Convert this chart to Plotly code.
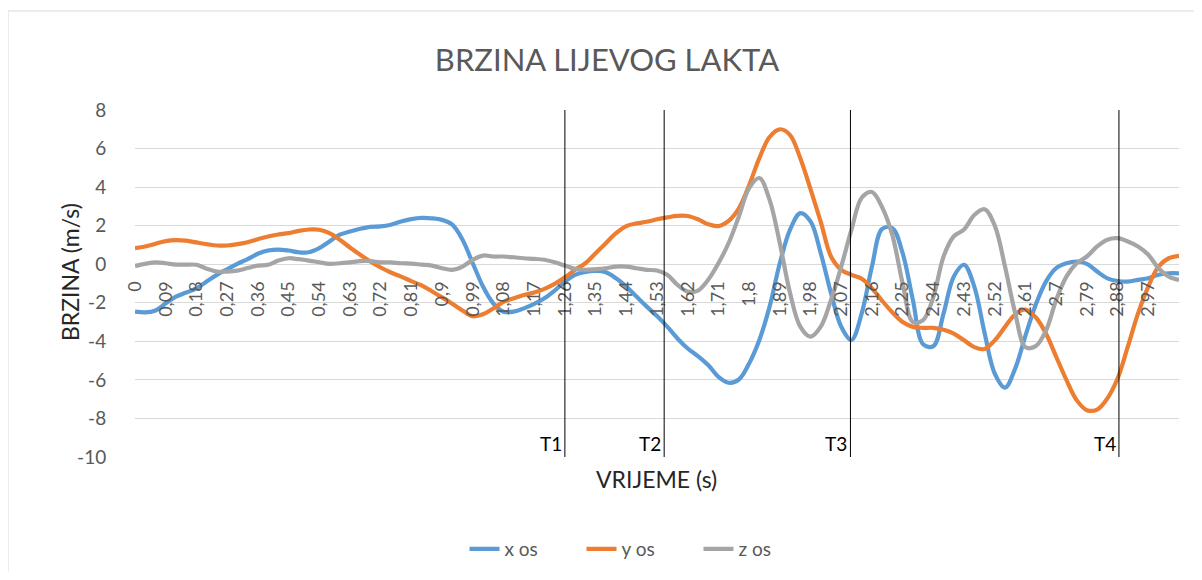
import plotly.graph_objects as go

categories = ["0","0,03","0,06","0,09","0,12","0,15","0,18","0,21","0,24","0,27","0,3","0,33","0,36","0,39","0,42","0,45","0,48","0,51","0,54","0,57","0,6","0,63","0,66","0,69","0,72","0,75","0,78","0,81","0,84","0,87","0,9","0,93","0,96","0,99","1,02","1,05","1,08","1,11","1,14","1,17","1,2","1,23","1,26","1,29","1,32","1,35","1,38","1,41","1,44","1,47","1,5","1,53","1,56","1,59","1,62","1,65","1,68","1,71","1,74","1,77","1,8","1,83","1,86","1,89","1,92","1,95","1,98","2,01","2,04","2,07","2,1","2,13","2,16","2,19","2,22","2,25","2,28","2,31","2,34","2,37","2,4","2,43","2,46","2,49","2,52","2,55","2,58","2,61","2,64","2,67","2,7","2,73","2,76","2,79","2,82","2,85","2,88","2,91","2,94","2,97","3","3,03","3,06"]

x_os = [-2.46,-2.5,-2.4,-2.03,-1.68,-1.47,-1.25,-0.9,-0.55,-0.26,
        0.02,0.26,0.54,0.71,0.76,0.71,0.62,0.62,0.83,1.18,
        1.53,1.7,1.84,1.94,1.96,2.05,2.22,2.34,2.4,2.38,
        2.3,2.05,1.27,0.05,-1.16,-2.03,-2.46,-2.46,-2.29,-2.06,
        -1.77,-1.37,-0.9,-0.55,-0.4,-0.35,-0.42,-0.73,-1.16,-1.68,
        -2.2,-2.69,-3.24,-3.85,-4.37,-4.77,-5.23,-5.84,-6.15,-5.98,
        -5.15,-3.93,-2.2,0.05,1.79,2.65,2.22,0.57,-1.5,-3.24,
        -3.93,-2.55,-0.12,1.83,1.87,0.57,-1.85,-4.15,-4.25,-2.55,
        -0.64,-0.03,-1.16,-3.55,-5.67,-6.4,-5.4,-3.7,-2.1,-0.9,
        -0.2,0.05,0.14,0.02,-0.38,-0.73,-0.87,-0.9,-0.81,-0.73,
        -0.55,-0.47,-0.47]

y_os = [0.83,0.92,1.06,1.2,1.25,1.22,1.13,1.04,0.97,0.97,
        1.04,1.14,1.3,1.44,1.54,1.61,1.73,1.8,1.79,1.61,
        1.27,0.87,0.49,0.14,-0.17,-0.43,-0.64,-0.88,-1.1,-1.4,
        -1.72,-2.05,-2.4,-2.7,-2.6,-2.3,-1.95,-1.77,-1.6,-1.47,
        -1.28,-1.02,-0.68,-0.29,0.05,0.57,1.09,1.61,1.98,2.12,
        2.2,2.33,2.43,2.51,2.5,2.33,2.07,1.98,2.25,2.9,
        4.1,5.5,6.6,7.0,6.7,5.5,3.9,2.2,0.4,-0.29,
        -0.55,-0.75,-1.25,-1.9,-2.5,-3.0,-3.25,-3.3,-3.3,-3.4,
        -3.6,-3.95,-4.3,-4.4,-3.95,-3.25,-2.6,-2.35,-2.75,-3.59,
        -4.8,-6.0,-7.05,-7.57,-7.54,-6.96,-5.93,-4.28,-2.55,-1.16,
        -0.12,0.31,0.43]

z_os = [-0.09,0.02,0.1,0.05,-0.02,-0.02,-0.03,-0.23,-0.38,-0.38,
        -0.33,-0.2,-0.07,-0.03,0.19,0.31,0.26,0.19,0.1,0.02,
        0.05,0.1,0.16,0.16,0.1,0.1,0.05,0.03,-0.02,-0.07,
        -0.21,-0.29,-0.12,0.23,0.45,0.4,0.4,0.36,0.31,0.28,
        0.23,0.1,-0.07,-0.24,-0.29,-0.26,-0.21,-0.12,-0.12,-0.21,
        -0.29,-0.33,-0.55,-1.07,-1.42,-1.37,-0.81,0.05,1.1,2.48,
        3.95,4.47,3.34,1.09,-1.5,-3.24,-3.76,-3.24,-1.85,-0.12,
        1.79,3.45,3.75,2.95,1.5,-1.0,-3.0,-2.9,-1.7,0.4,
        1.45,1.8,2.55,2.85,2.0,-0.12,-2.55,-4.3,-4.25,-3.45,
        -1.85,-0.64,0.05,0.4,0.92,1.27,1.35,1.18,0.92,0.49,
        -0.21,-0.64,-0.81]

series_names = ["x os", "y os", "z os"]
series_colors = ["#5B9BD5", "#ED7D31", "#A5A5A5"]

tick_labels = categories[:100:3]

y_ticks = [-10, -8, -6, -4, -2, 0, 2, 4, 6, 8]
y_tick_text = ["-10", "-8", "-6", "-4", "-2", "0", "2", "4", "6", "8"]

marker_names = ["T1", "T2", "T3", "T4"]
marker_times = [1.26, 1.551, 2.097, 2.884]
time_step = 0.03

FONT = "Lato"
# page body has an 8px margin; figure coords = screen coords - 8
W, H = 1186, 564
L, R, T, B = 127, 15, 102, 115
PW, PH = W - L - R, H - T - B

def px_x(p):
    return (p - L) / PW

def px_y(p):
    return (H - B - p) / PH

fig = go.Figure()
for name, vals, col in zip(series_names, [x_os, y_os, z_os], series_colors):
    fig.add_trace(go.Scatter(x=categories, y=vals, name=name, mode="lines",
                             line=dict(color=col, width=4.2, shape="spline", smoothing=1.0)))

ymin, ymax = -10, 8
shapes = []
annotations = []
for nm, tt in zip(marker_names, marker_times):
    idx = tt / time_step
    shapes.append(dict(type="line", xref="x", yref="y", x0=idx, x1=idx, y0=ymin, y1=ymax,
                       line=dict(color="black", width=1)))
    annotations.append(dict(x=idx, y=ymin, xref="x", yref="y", text=nm, showarrow=False,
                            xanchor="right", yanchor="bottom", xshift=-1, yshift=0,
                            font=dict(family=FONT, size=19, color="black")))

# outer chart border (top and left visible)
shapes.append(dict(type="rect", xref="paper", yref="paper",
                   x0=px_x(0), x1=px_x(W + 5), y0=px_y(H + 5), y1=px_y(3),
                   line=dict(color="#D9D9D9", width=1), fillcolor="rgba(0,0,0,0)", layer="below"))

annotations.append(dict(x=px_x(62), y=px_y(264), xref="paper", yref="paper", text="BRZINA (m/s)",
                        textangle=-90, showarrow=False, xanchor="center", yanchor="middle",
                        font=dict(family=FONT, size=23, color="#262626")))
annotations.append(dict(x=px_x(648), y=px_y(471), xref="paper", yref="paper", text="VRIJEME (s)",
                        showarrow=False, xanchor="center", yanchor="middle",
                        font=dict(family=FONT, size=23, color="#262626")))

fig.update_layout(
    width=W, height=H,
    margin=dict(l=L, r=R, t=T, b=B),
    paper_bgcolor="white", plot_bgcolor="white",
    title=dict(text="BRZINA LIJEVOG LAKTA", x=599 / W, xref="container", xanchor="center",
               y=1 - 52 / H, yref="container", yanchor="middle",
               font=dict(family=FONT, size=31, color="#595959")),
    xaxis=dict(type="category", range=[0, len(categories) - 1], tickmode="array",
               tickvals=tick_labels, ticktext=tick_labels, tickangle=-90,
               anchor="free", position=(0 - ymin) / (ymax - ymin),
               showgrid=False, showline=False, zeroline=False,
               ticks="outside", ticklen=9, tickcolor="rgba(0,0,0,0)",
               tickfont=dict(family=FONT, size=18, color="#595959")),
    yaxis=dict(range=[ymin, ymax], tickmode="array", tickvals=y_ticks, ticktext=y_tick_text,
               showgrid=True, gridcolor="#D9D9D9",
               gridwidth=1, zeroline=True, zerolinecolor="#D9D9D9", zerolinewidth=1,
               showline=False, ticks="outside", ticklen=24, tickcolor="rgba(0,0,0,0)",
               tickfont=dict(family=FONT, size=19, color="#595959")),
    legend=dict(orientation="h", xref="container", yref="container", x=632 / W, xanchor="center",
                y=1 - 541 / H, yanchor="middle", font=dict(family=FONT, size=19, color="#595959"),
                entrywidth=72, entrywidthmode="pixels"),
    shapes=shapes,
    annotations=annotations,
    showlegend=True,
)

fig.write_html("out.html")
